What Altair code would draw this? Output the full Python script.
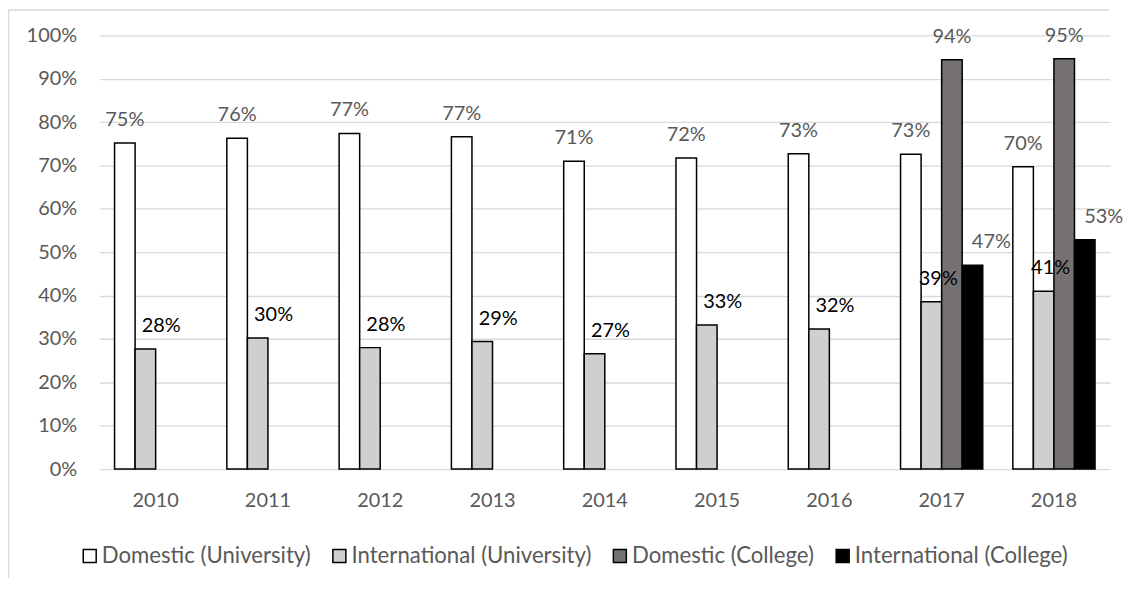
import altair as alt
import pandas as pd

years = ["2010", "2011", "2012", "2013", "2014", "2015", "2016", "2017", "2018"]
series_names = ["Domestic (University)", "International (University)",
                "Domestic (College)", "International (College)"]
domestic_univ = [75.2, 76.3, 77.4, 76.6, 71.0, 71.7, 72.7, 72.6, 69.7]
international_univ = [27.7, 30.2, 28.0, 29.4, 26.6, 33.2, 32.3, 38.6, 41.0]
college_years = ["2017", "2018"]
domestic_college = [94.4, 94.6]
international_college = [47.0, 52.9]
y_ticks = [0, 10, 20, 30, 40, 50, 60, 70, 80, 90, 100]

rows = []
for y, v in zip(years, domestic_univ):
    rows.append({"year": y, "series": series_names[0], "value": v})
for y, v in zip(years, international_univ):
    rows.append({"year": y, "series": series_names[1], "value": v})
for y, v in zip(college_years, domestic_college):
    rows.append({"year": y, "series": series_names[2], "value": v})
for y, v in zip(college_years, international_college):
    rows.append({"year": y, "series": series_names[3], "value": v})
df = pd.DataFrame(rows)
df["label"] = df["value"].round(0).astype(int).astype(str) + "%"

FONT = "Lato"
FS = 20
GRAY = "#595959"
W, H = 1016, 436

x_enc = alt.X("year:N", sort=years, title=None,
              scale=alt.Scale(paddingInner=0.268, paddingOuter=0.134),
              axis=alt.Axis(domain=False, ticks=False, labelFont=FONT, labelFontSize=FS,
                            labelColor=GRAY, labelPadding=22, labelAngle=0))
xo_enc = alt.XOffset("series:N", sort=series_names,
                     scale=alt.Scale(domain=series_names, paddingInner=0, paddingOuter=0))
y_enc = alt.Y("value:Q", title=None,
              scale=alt.Scale(domain=[0, 100], nice=False),
              axis=alt.Axis(values=y_ticks, domain=False, ticks=False,
                            labelExpr="datum.value + '%'", labelFont=FONT, labelFontSize=FS,
                            labelColor=GRAY, labelPadding=23, grid=True,
                            gridColor="#d9d9d9", gridWidth=1.3))

base = alt.Chart(df)

bars = base.mark_bar(stroke="black", strokeWidth=1.5).encode(
    x=x_enc, xOffset=xo_enc, y=y_enc,
    color=alt.Color("series:N", sort=series_names,
                    scale=alt.Scale(domain=series_names,
                                    range=["#ffffff", "#d0cece", "#767171", "#000000"]),
                    legend=alt.Legend(title=None, orient="none", legendX=-21, legendY=512,
                                      direction="horizontal", columns=4,
                                      symbolType="square", symbolSize=170,
                                      symbolStrokeColor="black", symbolStrokeWidth=1.5,
                                      symbolOpacity=1, labelLimit=0,
                                      labelFont=FONT, labelFontSize=22.3, labelColor=GRAY,
                                      labelOffset=1, columnPadding=17, padding=0)),
)

def label_layer(filt, dx, color):
    return base.transform_filter(filt).mark_text(
        font=FONT, fontSize=FS, color=color, dx=dx, dy=-17, baseline="alphabetic",
        align="center").encode(x=x_enc, xOffset=xo_enc, y=y_enc, text="label:N")

lab_du = label_layer(alt.datum.series == series_names[0], 0, GRAY)
lab_iu_a = label_layer((alt.datum.series == series_names[1]) & (alt.datum.year < "2017"), 16, "black")
lab_iu_b = label_layer((alt.datum.series == series_names[1]) & (alt.datum.year >= "2017"), 7, "black")
lab_dc = label_layer(alt.datum.series == series_names[2], 0, GRAY)
lab_ic = label_layer(alt.datum.series == series_names[3], 19, GRAY)

frame_left = alt.Chart(pd.DataFrame({"k": [0]})).mark_rule(color="#d9d9d9", strokeWidth=1.3).encode(
    x=alt.value(-91.5), y=alt.value(-25.5), y2=alt.value(H + 115))
frame_top = alt.Chart(pd.DataFrame({"k": [0]})).mark_rule(color="#d9d9d9", strokeWidth=1.3).encode(
    x=alt.value(-91.5), x2=alt.value(W - 1), y=alt.value(-25.5))

chart = alt.layer(bars, lab_du, lab_iu_a, lab_iu_b, lab_dc, lab_ic, frame_left, frame_top).properties(
    width=W, height=H,
    autosize=alt.AutoSizeParams(type="none"),
    padding={"left": 92, "top": 26, "right": 14, "bottom": 108},
    background="white",
).configure_view(stroke=None)

chart.save("out.html", embed_options={"renderer": "svg", "actions": False})
